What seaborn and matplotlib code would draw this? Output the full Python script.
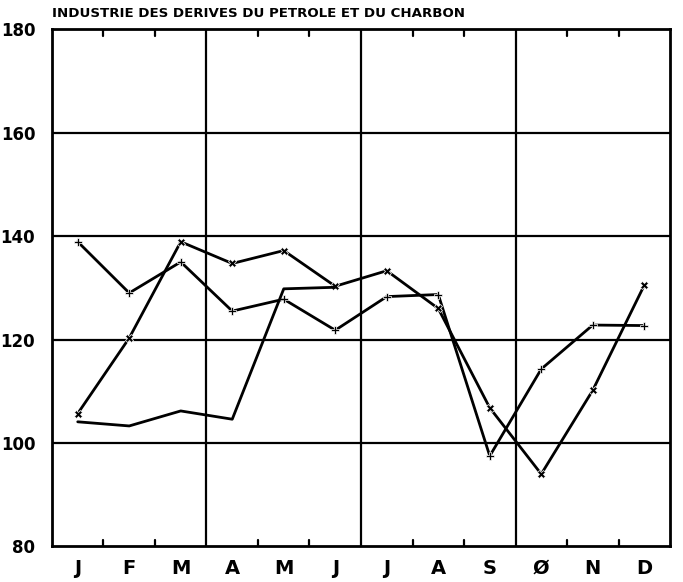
import numpy as np
import pandas as pd
import matplotlib
matplotlib.use("Agg")
import matplotlib.pyplot as plt
import seaborn as sns

# données
mois = ["J", "F", "M", "A", "M", "J", "J", "A", "S", "Ø", "N", "D"]
serie_a = [138.9, 129.0, 135.0, 125.5, 127.8, 121.8, 128.3, 128.7, 97.5, 114.3, 122.8, 122.7]
serie_b = [105.7, 120.3, 138.9, 134.7, 137.2, 130.3, 133.3, 126.0, 106.8, 94.0, 110.2, 130.5]
serie_c = [104.1, 103.3, 106.2, 104.6, 129.8, 130.1, np.nan, np.nan, np.nan, np.nan, np.nan, np.nan]
y_ticks = [80, 100, 120, 140, 160, 180]

sns.set_theme(style="white")
plt.rcParams['font.family'] = ['Liberation Sans Narrow', 'DejaVu Sans']
plt.rcParams['text.color'] = 'black'
plt.rcParams['xtick.color'] = 'black'
plt.rcParams['ytick.color'] = 'black'

x = np.arange(12)
df = pd.DataFrame({"x": x, "a": serie_a, "b": serie_b, "c": serie_c})

fig = plt.figure(figsize=(6.83, 5.82), dpi=100)
ax = fig.add_axes([0.0761, 0.061, 0.9049, 0.889])

sns.lineplot(data=df, x="x", y="a", ax=ax, color="black", linewidth=2,
             marker="P", markersize=6, markeredgewidth=0.5)
sns.lineplot(data=df, x="x", y="b", ax=ax, color="black", linewidth=2,
             marker="X", markersize=6, markeredgewidth=0.5)
sns.lineplot(data=df.dropna(), x="x", y="c", ax=ax, color="black", linewidth=2)

ax.set_xlim(-0.5, 11.5)
ax.set_ylim(80, 180)

# grille : horizontales tous les 20, verticales par trimestre
for v in y_ticks[1:-1]:
    ax.axhline(v, color="black", linewidth=1.6, zorder=0)
for q in [2.5, 5.5, 8.5]:
    ax.axvline(q, color="black", linewidth=1.6, zorder=0)

# petits traits aux limites des mois, haut et bas
for b in [0.5, 1.5, 3.5, 4.5, 6.5, 7.5, 9.5, 10.5]:
    ax.plot([b, b], [80, 81.3], color="black", linewidth=1.6)
    ax.plot([b, b], [178.7, 180], color="black", linewidth=1.6)

ax.set_xticks(x)
ax.set_xticklabels(mois, fontsize=14, fontweight="bold")
ax.set_yticks(y_ticks)
ax.set_yticklabels([str(v) for v in y_ticks], fontsize=12, fontweight="bold")
ax.tick_params(axis="both", length=0)
ax.tick_params(axis="x", pad=9)
ax.tick_params(axis="y", pad=12)
ax.set_xlabel("")
ax.set_ylabel("")

for s in ax.spines.values():
    s.set_color("black")
    s.set_linewidth(2)
    s.set_visible(True)

fig.text(0.0761, 0.977, "INDUSTRIE DES DERIVES DU PETROLE ET DU CHARBON",
         fontsize=9.6, fontweight="bold", ha="left", va="center")

fig.savefig("out.png", dpi=100, facecolor="white")
